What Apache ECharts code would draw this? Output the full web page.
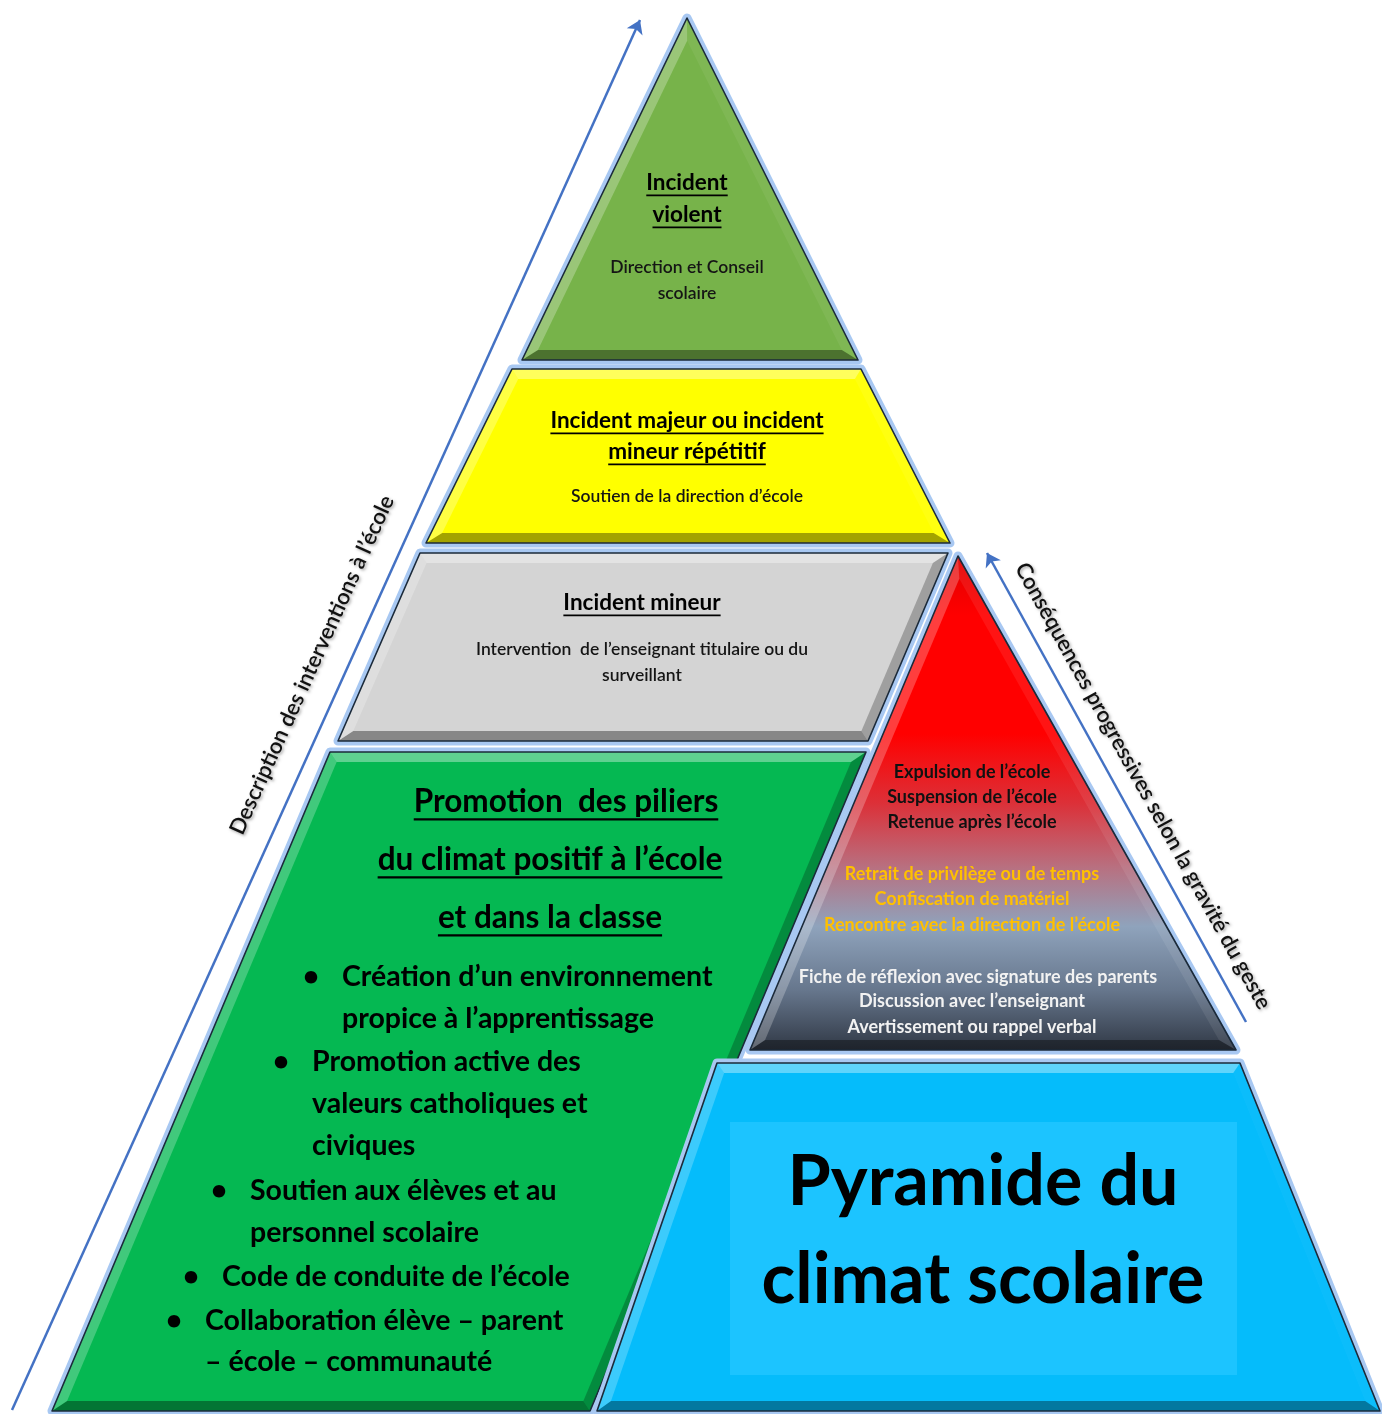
<!DOCTYPE html>
<html>
<head>
<meta charset="utf-8">
<title>Pyramide du climat scolaire</title>
<script src="https://cdn.jsdelivr.net/npm/echarts@6/dist/echarts.min.js"></script>
<style>
  html, body { margin: 0; padding: 0; background: #fff; }
  #chart { width: 1382px; height: 1414px; }
</style>
</head>
<body>
<div id="chart"></div>
<script>
// repère du dessin : x de 0 à 1382, y de 0 à 1414 (vers le bas)
const tierNames = ['Incident violent', 'Incident majeur', 'Incident mineur', 'Promotion', 'Conséquences', 'Titre'];
const tierPolygons = [
  [[687, 18], [858, 360], [522, 360]],
  [[512, 369], [861, 369], [950, 543], [426, 543]],
  [[420, 553], [948, 553], [868, 741], [338, 741]],
  [[330, 752], [866, 752], [590, 1411], [52, 1411]],
  [[958, 556], [1236, 1050], [750, 1050]],
  [[717, 1063], [1240, 1063], [1380, 1411], [597, 1411]]
];
const titleBox = [730, 1122, 1237, 1375];
const arrowUp = [[12, 1410], [640, 20]];
const arrowSide = [[1246, 1022], [987, 553]];

// textes : [texte, x, y] ; pour les puces, 4e valeur = début de puce
const violentHead = [['Incident', 687, 183], ['violent', 687, 215]];
const violentBody = [['Direction et Conseil', 687, 267], ['scolaire', 687, 293]];
const majeurHead = [['Incident majeur ou incident', 687, 421], ['mineur répétitif', 687, 452]];
const majeurBody = [['Soutien de la direction d’école', 687, 496]];
const mineurHead = [['Incident mineur', 642, 603]];
const mineurBody = [['Intervention  de l’enseignant titulaire ou du', 642, 649], ['surveillant', 642, 675]];
const piliersHead = [['Promotion  des piliers', 566, 802], ['du climat positif à l’école', 550, 860], ['et dans la classe', 550, 918]];
const piliersItems = [
  ['Création d’un environnement', 342, 977, true],
  ['propice à l’apprentissage', 342, 1019, false],
  ['Promotion active des', 312, 1062, true],
  ['valeurs catholiques et', 312, 1104, false],
  ['civiques', 312, 1146, false],
  ['Soutien aux élèves et au', 250, 1191, true],
  ['personnel scolaire', 250, 1233, false],
  ['Code de conduite de l’école', 222, 1277, true],
  ['Collaboration élève – parent', 205, 1321, true],
  ['– école – communauté', 205, 1362, false]
];
const sanctionsGraves = [['Expulsion de l’école', 972, 772], ['Suspension de l’école', 972, 797], ['Retenue après l’école', 972, 822]];
const sanctionsMoyennes = [['Retrait de privilège ou de temps', 972, 874], ['Confiscation de matériel', 972, 899], ['Rencontre avec la direction de l’école', 972, 925]];
const sanctionsLegeres = [['Fiche de réflexion avec signature des parents', 978, 977], ['Discussion avec l’enseignant', 972, 1001], ['Avertissement ou rappel verbal', 972, 1027]];
const titleLines = [['Pyramide du', 983, 1182], ['climat scolaire', 983, 1280]];
const sideLabels = [['Description des interventions à l’école', 312, 665], ['Conséquences progressives selon la gravité du geste', 1143, 786]];

const FONT = 'Lato, "Open Sans", sans-serif';
const textStyles = {
  head: { size: 22.5, weight: 'bold', color: '#000', underline: true },
  body: { size: 17.5, weight: 600, color: '#151515' },
  bigHead: { size: 31.5, weight: 'bold', color: '#000', underline: true },
  item: { size: 28.5, weight: 'bold', color: '#000', align: 'left' },
  grave: { size: 18, weight: 'bold', color: '#111' },
  moyenne: { size: 18, weight: 'bold', color: '#ffc000' },
  legere: { size: 18, weight: 'bold', color: '#f2f2f2' },
  title: { size: 70, weight: 'bold', color: '#000' },
  side: { size: 22, weight: 600, color: '#111', shadow: true }
};

const redFill = new echarts.graphic.LinearGradient(0, 0, 0, 1, [
  { offset: 0, color: '#e00000' },
  { offset: 0.12, color: '#ff0000' },
  { offset: 0.36, color: '#ff0000' },
  { offset: 0.5, color: '#dc3038' },
  { offset: 0.63, color: '#b87080' },
  { offset: 0.75, color: '#8fa3bc' },
  { offset: 0.88, color: '#66768c' },
  { offset: 1, color: '#303845' }
]);
const tierFills = ['#77b34a', '#ffff00', '#d4d4d4', '#05b852', redFill, '#05bcfb'];

const textItems = [];
function addBlock(lines, kind, rotations) {
  lines.forEach((l, i) => textItems.push({ text: l[0], x: l[1], y: l[2], kind, bullet: !!l[3], rot: rotations ? rotations[i] : 0 }));
}
addBlock(violentHead, 'head'); addBlock(violentBody, 'body');
addBlock(majeurHead, 'head'); addBlock(majeurBody, 'body');
addBlock(mineurHead, 'head'); addBlock(mineurBody, 'body');
addBlock(piliersHead, 'bigHead'); addBlock(piliersItems, 'item');
addBlock(sanctionsGraves, 'grave'); addBlock(sanctionsMoyennes, 'moyenne'); addBlock(sanctionsLegeres, 'legere');
addBlock(titleLines, 'title');
addBlock(sideLabels, 'side', [
  Math.atan2(arrowUp[0][1] - arrowUp[1][1], arrowUp[1][0] - arrowUp[0][0]),
  Math.atan2(arrowSide[1][1] - arrowSide[0][1], arrowSide[0][0] - arrowSide[1][0])
]);

const measureCtx = document.createElement('canvas').getContext('2d');
function textWidth(text, s) {
  measureCtx.font = s.weight + ' ' + s.size + 'px ' + FONT;
  return measureCtx.measureText(text).width;
}

// polygone rentré de d pixels (polygones convexes)
function insetPolygon(pts, d) {
  const n = pts.length;
  const c = pts.reduce((a, p) => [a[0] + p[0] / n, a[1] + p[1] / n], [0, 0]);
  const lines = pts.map((p, i) => {
    const q = pts[(i + 1) % n];
    const dx = q[0] - p[0], dy = q[1] - p[1];
    const len = Math.hypot(dx, dy);
    let nx = -dy / len, ny = dx / len;
    if ((c[0] - p[0]) * nx + (c[1] - p[1]) * ny < 0) { nx = -nx; ny = -ny; }
    return { p: [p[0] + nx * d, p[1] + ny * d], dir: [dx, dy], n: [nx, ny] };
  });
  const inner = lines.map((l, i) => {
    const m = lines[(i - 1 + n) % n];
    const den = m.dir[0] * l.dir[1] - m.dir[1] * l.dir[0];
    const t = ((l.p[0] - m.p[0]) * l.dir[1] - (l.p[1] - m.p[1]) * l.dir[0]) / den;
    return [m.p[0] + m.dir[0] * t, m.p[1] + m.dir[1] * t];
  });
  return { inner, lines };
}

function renderTier(params, api) {
  const i = api.value(2);
  const pts = tierPolygons[i].map(p => api.coord(p));
  const n = pts.length;
  const { inner, lines } = insetPolygon(pts, 10);
  const children = [
    { type: 'polygon', shape: { points: pts }, style: { fill: 'none', stroke: '#a8c8f2', lineWidth: 9, lineJoin: 'round' } },
    { type: 'polygon', shape: { points: pts }, style: { fill: tierFills[i] } }
  ];
  const L = [-0.3, -0.95];
  lines.forEach((l, k) => {
    const s = -(l.n[0] * L[0] + l.n[1] * L[1]);
    const quad = [pts[k], pts[(k + 1) % n], inner[(k + 1) % n], inner[k]];
    const fill = s > 0 ? 'rgba(255,255,255,' + (0.38 * s).toFixed(3) + ')' : 'rgba(0,0,0,' + (0.38 * -s).toFixed(3) + ')';
    children.push({ type: 'polygon', shape: { points: quad }, style: { fill } });
  });
  children.push({ type: 'polygon', shape: { points: pts }, style: { fill: 'none', stroke: '#1b2a3a', lineWidth: 1.6, lineJoin: 'round' } });
  return { type: 'group', children };
}

function renderBox(params, api) {
  const a = api.coord([api.value(0), api.value(1)]);
  const b = api.coord([api.value(2), api.value(3)]);
  return { type: 'rect', shape: { x: a[0], y: a[1], width: b[0] - a[0], height: b[1] - a[1] }, style: { fill: '#1cc4ff' } };
}

function renderText(params, api) {
  const t = textItems[api.value(2)];
  const s = textStyles[t.kind];
  const p = api.coord([api.value(0), api.value(1)]);
  const align = s.align || 'center';
  const base = { fontSize: s.size, fontWeight: s.weight, fontFamily: FONT, fill: s.color, verticalAlign: 'middle' };
  if (s.shadow) Object.assign(base, { textShadowColor: 'rgba(0,0,0,0.35)', textShadowBlur: 3, textShadowOffsetX: 1.5, textShadowOffsetY: 1.5 });
  const children = [{ type: 'text', x: p[0], y: p[1], rotation: t.rot, style: Object.assign({ text: t.text, align }, base) }];
  if (s.underline) {
    const w = textWidth(t.text, s);
    const x0 = align === 'left' ? p[0] : p[0] - w / 2;
    const uy = p[1] + s.size * 0.55;
    children.push({ type: 'line', shape: { x1: x0, y1: uy, x2: x0 + w, y2: uy }, style: { stroke: s.color, lineWidth: Math.max(1.5, s.size / 14) } });
  }
  if (t.bullet) {
    children.push({ type: 'text', x: p[0] - 31, y: p[1], style: Object.assign({ text: '•', align: 'center' }, base) });
  }
  return { type: 'group', children };
}

const chart = echarts.init(document.getElementById('chart'));
chart.setOption({
  animation: false,
  backgroundColor: '#fff',
  grid: { left: 0, right: 0, top: 0, bottom: 0 },
  xAxis: { type: 'value', min: 0, max: 1382, show: false },
  yAxis: { type: 'value', min: 0, max: 1414, inverse: true, show: false },
  series: [
    {
      type: 'custom',
      name: 'Pyramide',
      renderItem: renderTier,
      data: tierPolygons.map((poly, i) => ({
        name: tierNames[i],
        value: [poly.reduce((a, p) => a + p[0], 0) / poly.length, poly.reduce((a, p) => a + p[1], 0) / poly.length, i]
      })),
      silent: true
    },
    {
      type: 'custom',
      name: 'Encadré',
      renderItem: renderBox,
      encode: { x: [0, 2], y: [1, 3] },
      data: [titleBox],
      silent: true
    },
    {
      type: 'lines',
      coordinateSystem: 'cartesian2d',
      symbol: ['none', 'arrow'],
      symbolSize: 13,
      lineStyle: { color: '#4472c4', width: 2.5, opacity: 1 },
      data: [{ coords: arrowUp }, { coords: arrowSide }],
      silent: true
    },
    {
      type: 'custom',
      name: 'Textes',
      renderItem: renderText,
      data: textItems.map((t, i) => [t.x, t.y, i]),
      silent: true
    }
  ]
});
</script>
</body>
</html>
